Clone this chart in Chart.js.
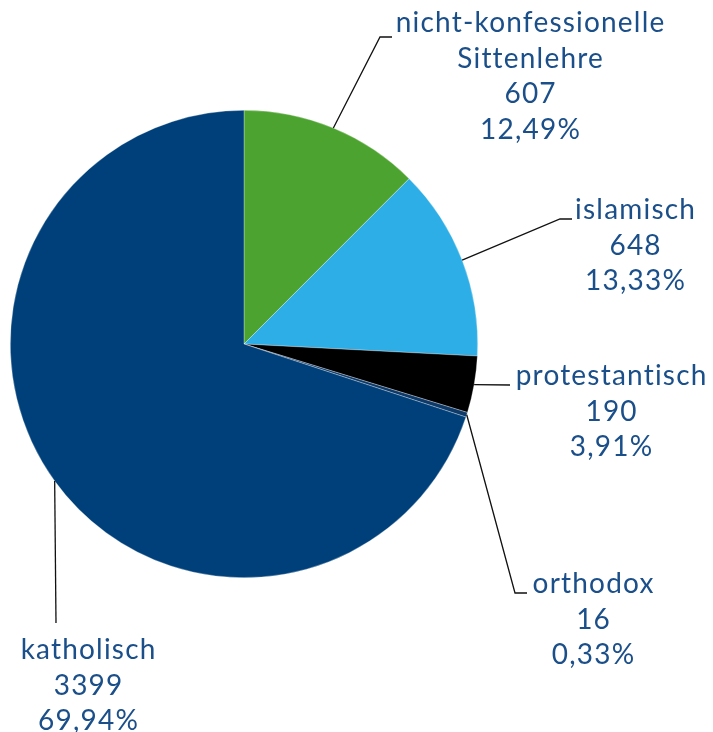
<!DOCTYPE html>
<html>
<head>
<meta charset="utf-8">
<script src="https://cdn.jsdelivr.net/npm/chart.js@4/dist/chart.umd.min.js"></script>
<style>
html,body{margin:0;padding:0;background:#fff;}
#wrap{width:713px;height:732px;position:relative;}
</style>
</head>
<body>
<div id="wrap"><canvas id="c" width="713" height="732"></canvas></div>
<script>
const categories = ["nicht-konfessionelle Sittenlehre", "islamisch", "protestantisch", "orthodox", "katholisch"];
const labelLines = [["nicht-konfessionelle", "Sittenlehre"], ["islamisch"], ["protestantisch"], ["orthodox"], ["katholisch"]];
const counts = [607, 648, 190, 16, 3399];
const percents = ["12,49%", "13,33%", "3,91%", "0,33%", "69,94%"];
const colors = ["#4CA32F", "#2DAEE6", "#000000", "#0E3A6A", "#00407A"];

// label placement (text center x, first baseline y, elbow point, line end)
const labelLayout = [
  {x: 530, y: 32,  elbow: [380, 37],  end: [392, 37]},
  {x: 635, y: 219, elbow: [560, 219], end: [572, 219]},
  {x: 611, y: 385, elbow: [510, 385], end: [510, 385]},
  {x: 593, y: 593, elbow: [515, 593], end: [527, 593]},
  {x: 88,  y: 659, elbow: [56, 623],  end: [56, 623]}
];
const lineHeight = 35.5;

const leaderPlugin = {
  id: 'leaders',
  afterDatasetsDraw(chart) {
    const ctx = chart.ctx;
    const meta = chart.getDatasetMeta(0);
    ctx.save();
    meta.data.forEach((arc, i) => {
      const p = arc.getProps(['x','y','startAngle','endAngle','outerRadius'], true);
      const mid = (p.startAngle + p.endAngle) / 2;
      const ax = p.x + Math.cos(mid) * p.outerRadius;
      const ay = p.y + Math.sin(mid) * p.outerRadius;
      const L = labelLayout[i];
      ctx.beginPath();
      ctx.strokeStyle = '#111';
      ctx.lineWidth = 1.3;
      ctx.moveTo(ax, ay);
      ctx.lineTo(L.elbow[0], L.elbow[1]);
      ctx.lineTo(L.end[0], L.end[1]);
      ctx.stroke();
      const lines = labelLines[i].concat([String(counts[i]), percents[i]]);
      ctx.fillStyle = '#1B4F8A';
      ctx.font = '400 28px Lato';
      if ('letterSpacing' in ctx) ctx.letterSpacing = '1.2px';
      ctx.textAlign = 'center';
      ctx.textBaseline = 'alphabetic';
      lines.forEach((t, k) => ctx.fillText(t, L.x + 0.6, L.y + k * lineHeight));
    });
    ctx.restore();
  }
};

new Chart(document.getElementById('c'), {
  type: 'pie',
  data: {
    labels: categories,
    datasets: [{
      data: counts,
      backgroundColor: colors,
      borderColor: 'rgba(255,255,255,0.5)',
      borderWidth: 0.6
    }]
  },
  options: {
    responsive: false,
    animation: false,
    layout: {padding: {left: 10, top: 110, right: 235, bottom: 154}},
    plugins: {legend: {display: false}, tooltip: {enabled: false}}
  },
  plugins: [leaderPlugin]
});
</script>
</body>
</html>
